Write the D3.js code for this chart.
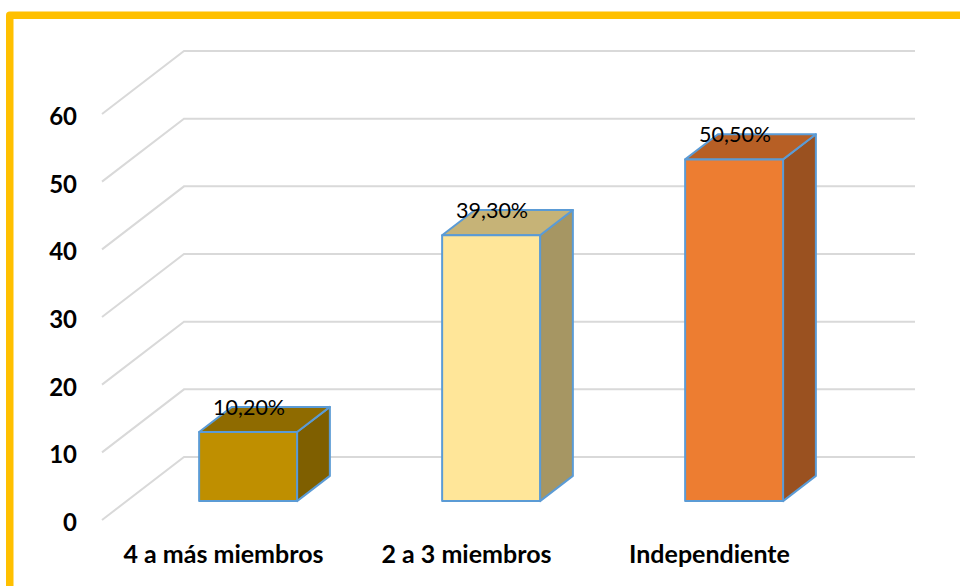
<!DOCTYPE html>
<html><head><meta charset="utf-8">
<script src="https://cdn.jsdelivr.net/npm/d3@7/dist/d3.min.js"></script>
<style>html,body{margin:0;padding:0;background:#fff}svg{display:block}text{font-family:Lato,"Open Sans",sans-serif;fill:#000}</style>
</head><body><svg id="c" width="960" height="586"></svg>
<script>
const categories = ["4 a más miembros", "2 a 3 miembros", "Independiente"];
const values = [10.2, 39.3, 50.5];
const valueLabels = ["10,20%", "39,30%", "50,50%"];
const yTicks = [0, 10, 20, 30, 40, 50, 60];
const frontColors = ["#BF8F00", "#FFE699", "#ED7D31"];
const topColors = ["#8F6B00", "#C6B377", "#B75F25"];
const sideColors = ["#7F5F00", "#A69663", "#9A5120"];

const svg = d3.select("#c");
const y = d3.scaleLinear().domain([0, 60]).range([520, 114]);
const x = d3.scaleBand().domain(categories).range([102, 831]).paddingInner(0.597).paddingOuter(0.2985);
const DX = 82, DY = -63;          // full depth of the 3-D floor
const d0 = 0.3, d1 = 0.7;         // bar depth span

// frame
svg.append("path").attr("d", "M9.75 586V15.25H960")
  .attr("fill", "none").attr("stroke", "#FFC000").attr("stroke-width", 7.5).attr("stroke-linejoin", "round");

// gridlines
svg.append("g").selectAll("path").data(yTicks).join("path")
  .attr("d", t => `M${x.range()[0]} ${y(t)}L${x.range()[0] + DX} ${y(t) + DY}H915`)
  .attr("fill", "none").attr("stroke", "#D9D9D9").attr("stroke-width", 2);

// y tick labels
svg.append("g").selectAll("text").data(yTicks).join("text")
  .attr("x", 77).attr("y", t => y(t) + 11).attr("text-anchor", "end")
  .attr("font-size", 24).attr("font-weight", 700).text(d => d);

// bars
const bars = svg.append("g").selectAll("g").data(categories).join("g");
const pts = (i) => {
  const xl = x(categories[i]) + DX * d0, xr = xl + x.bandwidth();
  const yb = y(0) + DY * d0, yt = y(values[i]) + DY * d0;
  const ox = DX * (d1 - d0), oy = DY * (d1 - d0);
  return {xl, xr, yb, yt, ox, oy};
};
const faceAttrs = sel => sel.attr("stroke", "#5B9BD5").attr("stroke-width", 2).attr("stroke-linejoin", "round");
bars.append("path").attr("d", (c, i) => { const p = pts(i);
    return `M${p.xr} ${p.yt}L${p.xr + p.ox} ${p.yt + p.oy}V${p.yb + p.oy}L${p.xr} ${p.yb}Z`; })
  .attr("fill", (c, i) => sideColors[i]).call(faceAttrs);
bars.append("path").attr("d", (c, i) => { const p = pts(i);
    return `M${p.xl} ${p.yt}L${p.xl + p.ox} ${p.yt + p.oy}H${p.xr + p.ox}L${p.xr} ${p.yt}Z`; })
  .attr("fill", (c, i) => topColors[i]).call(faceAttrs);
bars.append("path").attr("d", (c, i) => { const p = pts(i);
    return `M${p.xl} ${p.yt}H${p.xr}V${p.yb}H${p.xl}Z`; })
  .attr("fill", (c, i) => frontColors[i]).call(faceAttrs);

// data labels
svg.append("g").selectAll("text").data(categories).join("text")
  .attr("x", (c, i) => { const p = pts(i); return (p.xl + p.xr) / 2 + 1; })
  .attr("y", (c, i) => { const p = pts(i); return p.yt + p.oy + 8; })
  .attr("text-anchor", "middle").attr("font-size", 21.5).text((c, i) => valueLabels[i]);

// category labels
svg.append("g").selectAll("text").data(categories).join("text")
  .attr("x", c => x(c) + x.bandwidth() / 2).attr("y", 563)
  .attr("text-anchor", "middle").attr("font-size", 25).attr("font-weight", 700).text(c => c);
</script></body></html>
